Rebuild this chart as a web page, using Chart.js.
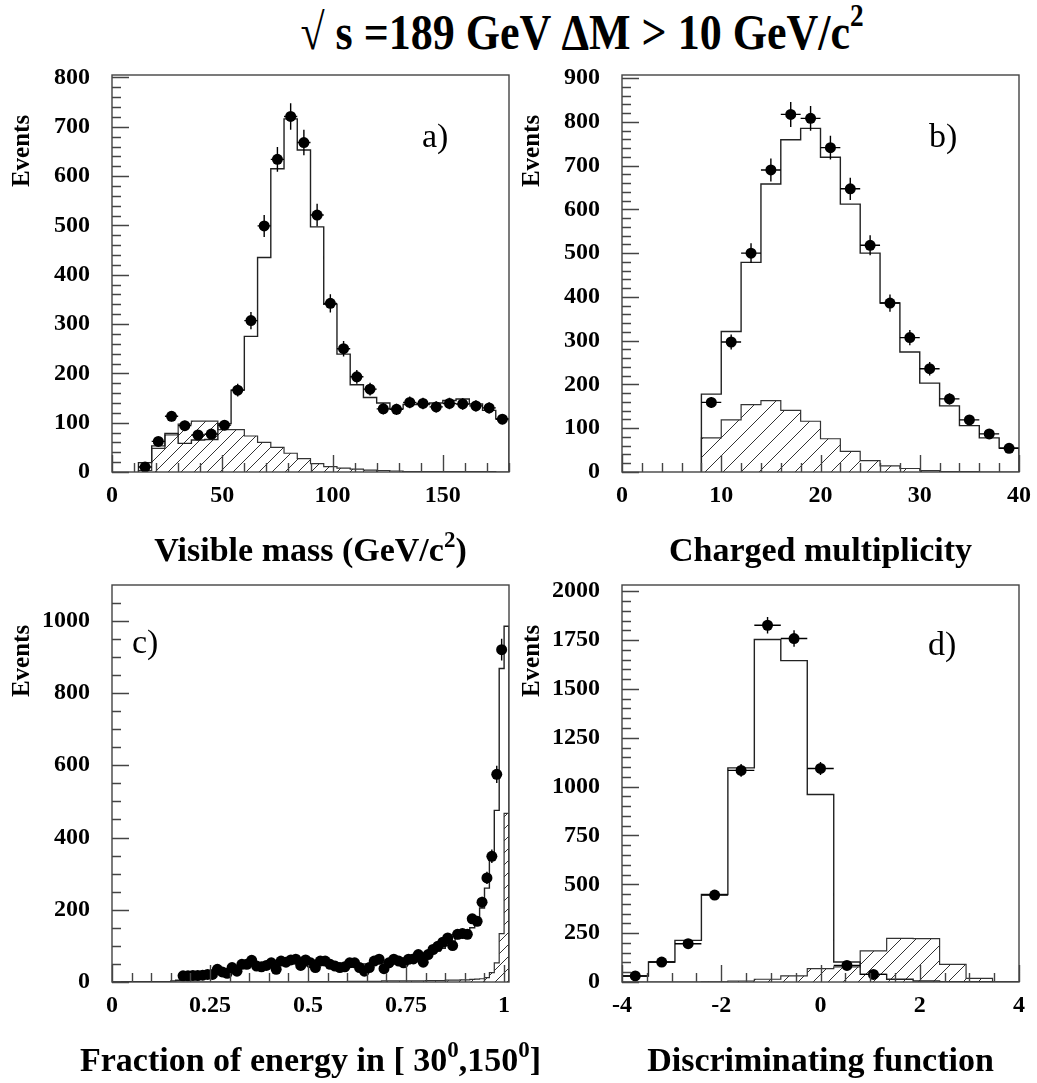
<!DOCTYPE html>
<html>
<head>
<meta charset="utf-8">
<script src="https://cdn.jsdelivr.net/npm/chart.js@4.4.1/dist/chart.umd.min.js"></script>
<style>
  html, body { margin: 0; padding: 0; background: #fff; overflow: hidden; }
  #page { position: relative; width: 1037px; height: 1083px; overflow: hidden; }
  #title { position: absolute; left: 0; width: 1164px; top: 3px; text-align: center;
           font: bold 44px "Liberation Serif", "Times New Roman", serif; color: #000; white-space: nowrap;
           transform: scaleY(1.15); transform-origin: 50% 0; }
  #title sup { font-size: 0.62em; vertical-align: 0.72em; line-height: 0; }
  .panel { position: absolute; width: 560px; height: 520px; }
</style>
</head>
<body>
<div id="page">
  <div id="title">&#8730; s =189 GeV &#916;M &gt; 10 GeV/c<sup>2</sup></div>
  <div class="panel" style="left:0;top:55px"><canvas id="chartA" width="560" height="520"></canvas></div>
  <div class="panel" style="left:510px;top:55px"><canvas id="chartB" width="560" height="520"></canvas></div>
  <div class="panel" style="left:0;top:565px"><canvas id="chartC" width="560" height="520"></canvas></div>
  <div class="panel" style="left:510px;top:565px"><canvas id="chartD" width="560" height="520"></canvas></div>
</div>
<script>
// ---- a) visible mass, bins of 6 GeV starting at 12
const massBinLo = 12, massBinWidth = 6;
const massCenters = [15, 21, 27, 33, 39, 45, 51, 57, 63, 69, 75, 81, 87, 93, 99, 105, 111, 117, 123, 129, 135, 141, 147, 153, 159, 165, 171, 177];
const massData = [10, 62, 113, 94, 75, 77, 95, 166, 307, 499, 634, 721, 668, 521, 342, 250, 193, 168, 128, 127, 141, 139, 132, 139, 138, 134, 130, 107];
const massMC = [19, 53, 78, 58, 65, 66, 98, 166, 275, 435, 615, 716, 653, 497, 340, 239, 177, 151, 140, 128, 137, 137, 140, 145, 148, 138, 125, 108];
const massBkg = [3, 48, 75, 97, 103, 103, 86, 86, 73, 60, 50, 38, 27, 17, 11, 8, 6, 4, 3, 2, 1, 1, 1, 1, 1, 1, 1, 0];
const massXTicks = [0, 50, 100, 150];
const massYTicks = [0, 100, 200, 300, 400, 500, 600, 700, 800];

// ---- b) charged multiplicity, bins of 2 starting at 8
const multBinLo = 8, multBinWidth = 2;
const multCenters = [9, 11, 13, 15, 17, 19, 21, 23, 25, 27, 29, 31, 33, 35, 37, 39];
const multData = [159, 297, 500, 690, 817, 808, 741, 647, 518, 386, 307, 236, 167, 119, 87, 54];
const multMC = [178, 321, 479, 658, 759, 785, 719, 612, 500, 386, 274, 203, 151, 106, 78, 55];
const multBkg = [78, 119, 154, 163, 141, 116, 76, 47, 26, 14, 8, 3, 1, 1, 0, 0];
const multXTicks = [0, 10, 20, 30, 40];
const multYTicks = [0, 100, 200, 300, 400, 500, 600, 700, 800, 900];

// ---- c) fraction of energy in [30,150] deg, bins of 0.0125 starting at 0
const fracBinLo = 0, fracBinWidth = 0.0125, fracDataFirstBin = 14;
const fracData = [17, 17, 18, 18, 19, 21, 21, 35, 28, 24,
  40, 30, 49, 49, 60, 44, 42, 46, 53, 35,
  58, 55, 61, 63, 46, 61, 53, 40, 58, 58,
  49, 44, 40, 42, 53, 53, 40, 30, 40, 58,
  63, 37, 53, 63, 58, 53, 63, 64, 76, 55,
  76, 90, 99, 110, 122, 101, 132, 134, 132, 175,
  168, 221, 288, 348, 575, 920];
const fracMC = [0, 0, 1, 1, 1, 1, 1, 1, 1, 1,
  1, 1, 3, 5, 14, 17, 18, 19, 20, 22,
  24, 27, 29, 31, 34, 37, 40, 43, 45, 47,
  48, 49, 50, 51, 51, 52, 52, 52, 51, 51,
  50, 50, 49, 48, 47, 46, 46, 46, 47, 48,
  49, 50, 51, 52, 53, 54, 55, 56, 57, 59,
  61, 63, 66, 70, 75, 80, 86, 93, 101, 110,
  120, 130, 140, 150, 159, 205, 260, 348, 475, 868,
  985];
const fracBkg = [0, 0, 0, 0, 0, 0, 0, 0, 0, 0,
  0, 0, 0, 0, 0, 0, 0, 0, 0, 0,
  0, 0, 0, 0, 0, 0, 0, 0, 0, 0,
  0, 0, 0, 0, 0, 0, 0, 0, 0, 0,
  1, 1, 1, 1, 1, 1, 1, 1, 2, 2,
  2, 2, 2, 2, 2, 3, 3, 3, 3, 3,
  3, 3, 3, 3, 4, 4, 4, 4, 5, 5,
  5, 6, 6, 7, 8, 9, 12, 26, 53, 134,
  467];
const fracXTicks = [0, 0.25, 0.5, 0.75, 1];
const fracYTicks = [0, 200, 400, 600, 800, 1000];

// ---- d) discriminating function, 15 bins over [-4, 4]
const discBinLo = -4, discBinWidth = 8 / 15;
const discCenters = [-3.733, -3.2, -2.667, -2.133, -1.6, -1.067, -0.533, 0, 0.533, 1.067, 1.6, 2.133, 2.667, 3.2, 3.733];
const discData = [31, 102, 196, 445, 1083, 1826, 1758, 1093, 85, 39, null, null, null, null, null];
const discMC = [31, 102, 213, 448, 1096, 1753, 1645, 960, 102, 39, 14, 5, 2, 1, 0];
const discBkg = [0, 0, 0, 1, 5, 14, 31, 68, 77, 159, 223, 222, 90, 19, 0];
const discXTicks = [-4, -2, 0, 2, 4];
const discYTicks = [0, 250, 500, 750, 1000, 1250, 1500, 1750, 2000];

const serif = "'Liberation Serif', 'Times New Roman', serif";
const tickFont = { family: serif, weight: 'bold', size: 24 };

function hatch(step) {
  const c = document.createElement('canvas');
  c.width = step; c.height = step;
  const g = c.getContext('2d');
  g.strokeStyle = '#333';
  g.lineWidth = 1;
  g.beginPath();
  g.moveTo(0, step); g.lineTo(step, 0);
  g.moveTo(-step, step); g.lineTo(step, -step);
  g.moveTo(0, 2 * step); g.lineTo(2 * step, 0);
  g.stroke();
  return g.createPattern(c, 'repeat');
}

// outline of a histogram: up at the first edge, flat tops, down at the last edge
function histPoints(lo, width, values) {
  const pts = [{ x: lo, y: 0 }];
  values.forEach((v, i) => {
    pts.push({ x: lo + i * width, y: v }, { x: lo + (i + 1) * width, y: v });
  });
  pts.push({ x: lo + values.length * width, y: 0 });
  return pts;
}

const panelPlugin = {
  id: 'panel',
  afterDatasetsDraw(chart, args, o) {
    const ctx = chart.ctx, xs = chart.scales.x, ys = chart.scales.y;
    const pts = chart.data.datasets[2].data;
    ctx.save();
    ctx.strokeStyle = '#000';
    ctx.lineWidth = 1.4;
    ctx.beginPath();
    pts.forEach(p => {
      const err = Math.sqrt(p.y);
      const px = xs.getPixelForValue(p.x), py = ys.getPixelForValue(p.y);
      ctx.moveTo(px, ys.getPixelForValue(p.y - err));
      ctx.lineTo(px, ys.getPixelForValue(p.y + err));
      ctx.moveTo(xs.getPixelForValue(p.x - o.halfWidth), py);
      ctx.lineTo(xs.getPixelForValue(p.x + o.halfWidth), py);
    });
    ctx.stroke();
    ctx.restore();
  },
  afterDraw(chart, args, o) {
    const ctx = chart.ctx, xs = chart.scales.x, ys = chart.scales.y;
    const { left, right, top, bottom } = chart.chartArea;
    ctx.save();
    ctx.strokeStyle = '#444';
    ctx.lineWidth = 1.4;
    ctx.strokeRect(left, top, right - left, bottom - top);
    ctx.beginPath();
    for (let v = ys.min; v <= ys.max + 1e-9; v += o.yMinor) {
      const k = Math.round(v / o.yMinor);
      const len = (k % o.yMajorEvery === 0) ? 17 : 9;
      const py = Math.round(ys.getPixelForValue(v)) + 0.5;
      ctx.moveTo(left, py); ctx.lineTo(left + len, py);
    }
    const x0 = Math.ceil(xs.min / o.xMinor - 1e-9);
    for (let k = x0; k * o.xMinor <= xs.max + 1e-9; k++) {
      const len = (k % o.xMajorEvery === 0) ? 17 : 9;
      const px = Math.round(xs.getPixelForValue(k * o.xMinor)) + 0.5;
      ctx.moveTo(px, bottom); ctx.lineTo(px, bottom - len);
    }
    ctx.stroke();

    ctx.fillStyle = '#000';
    ctx.font = 'bold 25px ' + serif;
    ctx.textAlign = 'center';
    ctx.textBaseline = 'middle';
    ctx.translate(left - 89, top + 76);
    ctx.rotate(-Math.PI / 2);
    ctx.fillText('Events', 0, 0);
    ctx.restore();

    // panel letter
    ctx.save();
    ctx.fillStyle = '#000';
    ctx.font = '34px ' + serif;
    ctx.textAlign = 'left';
    ctx.textBaseline = 'alphabetic';
    ctx.fillText(o.label, left + o.labelX, top + o.labelY);

    // x-axis title with real superscripts
    const mainFont = 'bold 34px ' + serif, supFont = 'bold 23px ' + serif;
    let w = 0;
    o.xTitle.forEach(([t, sup]) => { ctx.font = sup ? supFont : mainFont; w += ctx.measureText(t).width; });
    let x = (left + right) / 2 - w / 2;
    const baseY = bottom + 89;
    o.xTitle.forEach(([t, sup]) => {
      ctx.font = sup ? supFont : mainFont;
      ctx.fillText(t, x, sup ? baseY - 14 : baseY);
      x += ctx.measureText(t).width;
    });
    ctx.restore();
  }
};

function makePanel(id, p) {
  const dataPts = p.centers.map((x, i) => ({ x: x, y: p.data[i] })).filter(d => d.y != null);
  return new Chart(document.getElementById(id), {
    plugins: [panelPlugin],
    data: {
      datasets: [
        { type: 'line', data: histPoints(p.lo, p.width, p.bkg), borderColor: '#333', borderWidth: 1.2,
          backgroundColor: hatch(p.hatchStep), fill: 'origin', pointRadius: 0, tension: 0, order: 3 },
        { type: 'line', data: histPoints(p.lo, p.width, p.mc), borderColor: '#222', borderWidth: 1.4,
          fill: false, pointRadius: 0, tension: 0, order: 2 },
        { type: 'scatter', data: dataPts, backgroundColor: '#000', borderWidth: 0, pointRadius: 5.5, order: 1 }
      ]
    },
    options: {
      responsive: false,
      animation: false,
      devicePixelRatio: 1,
      layout: { autoPadding: false, padding: { left: 0, top: 20, right: 51, bottom: 0 } },
      plugins: {
        legend: { display: false },
        tooltip: { enabled: false },
        panel: { halfWidth: p.width / 2, yMinor: p.yMinor, yMajorEvery: p.yMajorEvery,
                 xMinor: p.xMinor, xMajorEvery: p.xMajorEvery, xTitle: p.xTitle,
                 label: p.label, labelX: p.labelX, labelY: p.labelY }
      },
      scales: {
        x: {
          type: 'linear', min: p.xMin, max: p.xMax,
          grid: { display: false, drawTicks: false }, border: { display: false },
          afterBuildTicks: s => { s.ticks = p.xTicks.map(v => ({ value: v })); },
          afterFit: s => { s.height = 103; s.paddingLeft = 0; s.paddingRight = 0; },
          ticks: { font: tickFont, color: '#000', padding: 9, autoSkip: false, maxRotation: 0, minRotation: 0,
                   callback: v => String(v) }
        },
        y: {
          type: 'linear', min: 0, max: p.yMax,
          grid: { display: false, drawTicks: false }, border: { display: false },
          afterBuildTicks: s => { s.ticks = p.yTicks.map(v => ({ value: v })); },
          afterFit: s => { s.width = 112; s.paddingTop = 0; s.paddingBottom = 0; },
          ticks: { font: tickFont, color: '#000', padding: 22, autoSkip: false, callback: v => String(v) }
        }
      }
    }
  });
}

makePanel('chartA', {
  lo: massBinLo, width: massBinWidth, centers: massCenters, data: massData, mc: massMC, bkg: massBkg,
  xMin: 0, xMax: 180, yMax: 805, xTicks: massXTicks, yTicks: massYTicks,
  xMinor: 10, xMajorEvery: 5, yMinor: 20, yMajorEvery: 5, hatchStep: 13,
  xTitle: [['Visible mass (GeV/c', 0], ['2', 1], [')', 0]], label: 'a)', labelX: 310, labelY: 72
});
makePanel('chartB', {
  lo: multBinLo, width: multBinWidth, centers: multCenters, data: multData, mc: multMC, bkg: multBkg,
  xMin: 0, xMax: 40, yMax: 907, xTicks: multXTicks, yTicks: multYTicks,
  xMinor: 2, xMajorEvery: 5, yMinor: 20, yMajorEvery: 5, hatchStep: 18,
  xTitle: [['Charged multiplicity', 0]], label: 'b)', labelX: 307, labelY: 72
});
makePanel('chartC', {
  lo: fracBinLo, width: fracBinWidth,
  centers: fracData.map((_, i) => fracBinLo + (fracDataFirstBin + i + 0.5) * fracBinWidth),
  data: fracData, mc: fracMC, bkg: fracBkg,
  xMin: 0, xMax: 1.0125, yMax: 1099, xTicks: fracXTicks, yTicks: fracYTicks,
  xMinor: 0.05, xMajorEvery: 5, yMinor: 50, yMajorEvery: 4, hatchStep: 12,
  xTitle: [['Fraction of energy in [ 30', 0], ['0', 1], [',150', 0], ['0', 1], [']', 0]],
  label: 'c)', labelX: 20, labelY: 68
});
makePanel('chartD', {
  lo: discBinLo, width: discBinWidth, centers: discCenters, data: discData, mc: discMC, bkg: discBkg,
  xMin: -4, xMax: 4, yMax: 2032, xTicks: discXTicks, yTicks: discYTicks,
  xMinor: 0.5, xMajorEvery: 4, yMinor: 50, yMajorEvery: 5, hatchStep: 15,
  xTitle: [['Discriminating function', 0]], label: 'd)', labelX: 306, labelY: 70
});
</script>
</body>
</html>
